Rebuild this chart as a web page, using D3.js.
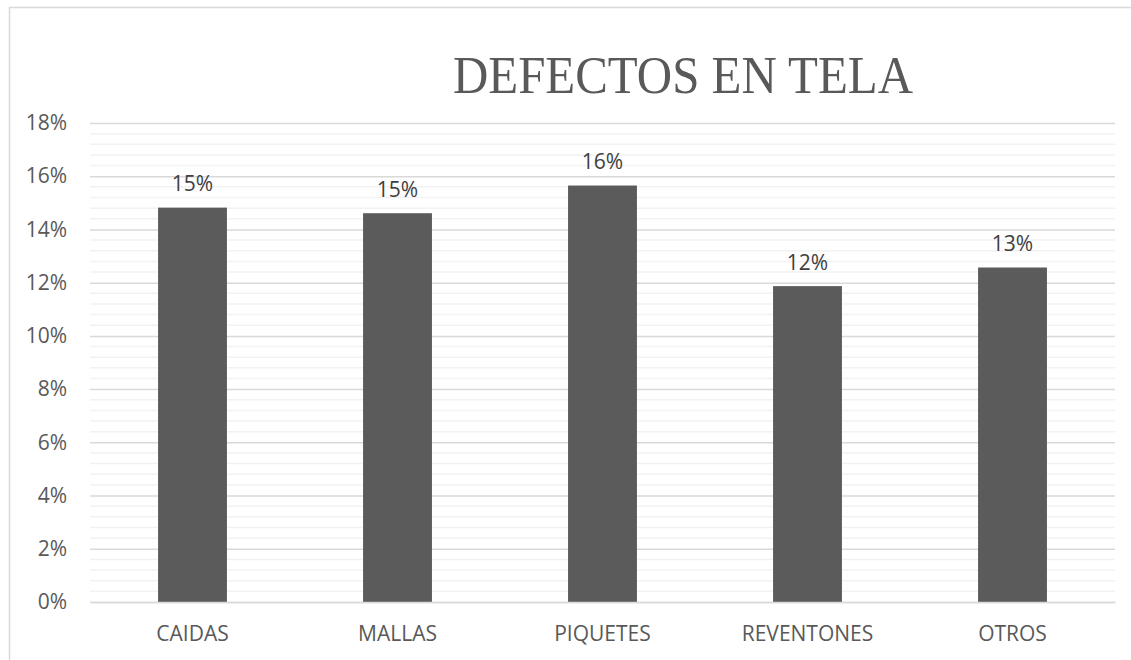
<!DOCTYPE html>
<html>
<head>
<meta charset="utf-8">
<script src="https://cdn.jsdelivr.net/npm/d3@7"></script>
<style>
  body { margin: 0; background: #fff; }
  svg { display: block; }
  .tick text { font-family: "Open Sans", sans-serif; font-size: 21px; fill: #595959; }
</style>
</head>
<body>
<div class="chart"></div>
<script>
var categories = ["CAIDAS", "MALLAS", "PIQUETES", "REVENTONES", "OTROS"];
var values = [0.1482, 0.1461, 0.1565, 0.1187, 0.1257];
var yTicks = [0, 0.02, 0.04, 0.06, 0.08, 0.10, 0.12, 0.14, 0.16, 0.18];
var title = "DEFECTOS EN TELA";

var W = 1131, H = 660;
var margin = { top: 123, right: 16, bottom: 58, left: 90 },
    width = W - margin.left - margin.right,
    height = H - margin.top - margin.bottom;

var svg = d3.select(".chart")
    .append("svg")
    .attr("width", W)
    .attr("height", H);

// outer chart frame (only top and left visible in the crop)
svg.append("path")
    .attr("d", "M9.5," + H + "V7.5H" + W)
    .attr("fill", "none")
    .attr("stroke", "#d9d9d9")
    .attr("stroke-width", 1.5);

svg.append("text")
    .attr("x", 683)
    .attr("y", 93)
    .attr("text-anchor", "middle")
    .attr("font-family", "'Liberation Serif', 'DejaVu Serif', serif")
    .attr("font-size", 52)
    .attr("textLength", 460)
    .attr("lengthAdjust", "spacingAndGlyphs")
    .attr("fill", "#595959")
    .text(title);

var g = svg.append("g")
    .attr("transform", "translate(" + margin.left + "," + margin.top + ")");

var x = d3.scaleBand()
    .domain(categories)
    .range([0, width])
    .paddingInner(0.664)
    .paddingOuter(0.332);

var y = d3.scaleLinear()
    .domain([0, 0.18])
    .range([height, 0]);

// minor gridlines every 0.4%
var minor = d3.range(0, 46).map(function(i) { return i * 0.004; })
    .filter(function(v) { return Math.abs(v / 0.02 - Math.round(v / 0.02)) > 1e-6; });

g.append("g")
    .selectAll("line")
    .data(minor)
    .join("line")
    .attr("x1", 0)
    .attr("x2", width)
    .attr("y1", function(d) { return y(d); })
    .attr("y2", function(d) { return y(d); })
    .attr("stroke", "#f2f2f2")
    .attr("stroke-width", 1.5);

var yAxis = d3.axisLeft(y)
    .tickValues(yTicks)
    .tickSize(-width)
    .tickPadding(23)
    .tickFormat(d3.format(".0%"));

g.append("g")
    .attr("class", "y-axis")
    .call(yAxis)
    .call(function(s) {
        s.select(".domain").remove();
        s.selectAll(".tick line").attr("stroke", "#d9d9d9").attr("stroke-width", 1.5);
    });

g.selectAll(".bar")
    .data(values)
    .join("rect")
    .attr("class", "bar")
    .attr("x", function(d, i) { return x(categories[i]); })
    .attr("width", x.bandwidth())
    .attr("y", function(d) { return y(d); })
    .attr("height", function(d) { return height - y(d); })
    .attr("fill", "#5b5b5b");

g.selectAll(".label")
    .data(values)
    .join("text")
    .attr("class", "label")
    .attr("x", function(d, i) { return x(categories[i]) + x.bandwidth() / 2; })
    .attr("y", function(d) { return y(d) - 16.5; })
    .attr("text-anchor", "middle")
    .attr("font-family", "'Open Sans', sans-serif")
    .attr("font-size", 21)
    .attr("fill", "#404040")
    .text(function(d) { return d3.format(".0%")(d); });

g.append("g")
    .attr("class", "x-axis")
    .attr("transform", "translate(0," + height + ")")
    .call(d3.axisBottom(x).tickSize(0).tickPadding(24))
    .call(function(s) {
        s.select(".domain").attr("stroke", "#d9d9d9").attr("stroke-width", 1.5);
    });
</script>
</body>
</html>
